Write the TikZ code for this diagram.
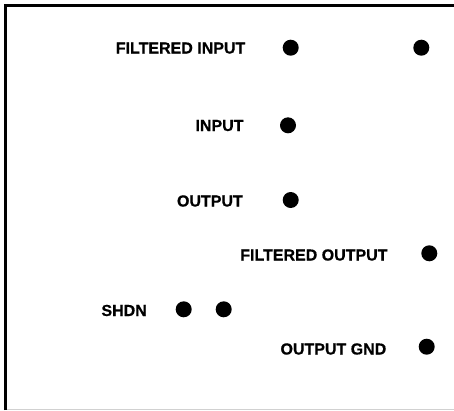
\documentclass[tikz,border=0pt]{standalone}
\usepackage{fontspec}
\setmainfont[BoldFeatures={FakeBold=0.6}]{Liberation Sans}
\tikzset{
  lab/.style={font=\fontsize{16}{18}\selectfont\bfseries,inner sep=0pt,anchor=base east,text=black},
  pin/.style={circle,fill=black,draw=none,minimum size=16pt,inner sep=0pt}
}
\begin{document}
\begin{tikzpicture}[x=1pt,y=-1pt]
\useasboundingbox (0,0) rectangle (454,410);
\fill[white] (0,0) rectangle (454,410);
\coordinate (tl) at (5.7,5.4);
\coordinate (tr) at (454,5.4);
\coordinate (bl) at (5.7,410);
\coordinate (br) at (454,409.2);
\draw[line width=0.8pt,black!18] (5.7,409.2) -- (br);
\draw[line width=3.2pt] (bl) -- (tl) -- (tr);
\node[lab] (l1) at (245.5,53.5) {FILTERED INPUT};
\node[lab] (l2) at (243.7,131) {INPUT};
\node[lab] (l3) at (243,206.5) {OUTPUT};
\node[lab] (l4) at (387.7,260.5) {FILTERED OUTPUT};
\node[lab] (l5) at (147,316) {SHDN};
\node[lab] (l6) at (386.5,354.5) {OUTPUT GND};
\node[pin] (p1) at (290.7,47.7) {};
\node[pin] (p2) at (421.3,47.7) {};
\node[pin] (p3) at (288,125.3) {};
\node[pin] (p4) at (290.7,200) {};
\node[pin] (p5) at (429.3,253.3) {};
\node[pin] (p6) at (183.7,309.3) {};
\node[pin] (p7) at (223.7,309.3) {};
\node[pin] (p8) at (426.7,346.7) {};
\end{tikzpicture}
\end{document}
